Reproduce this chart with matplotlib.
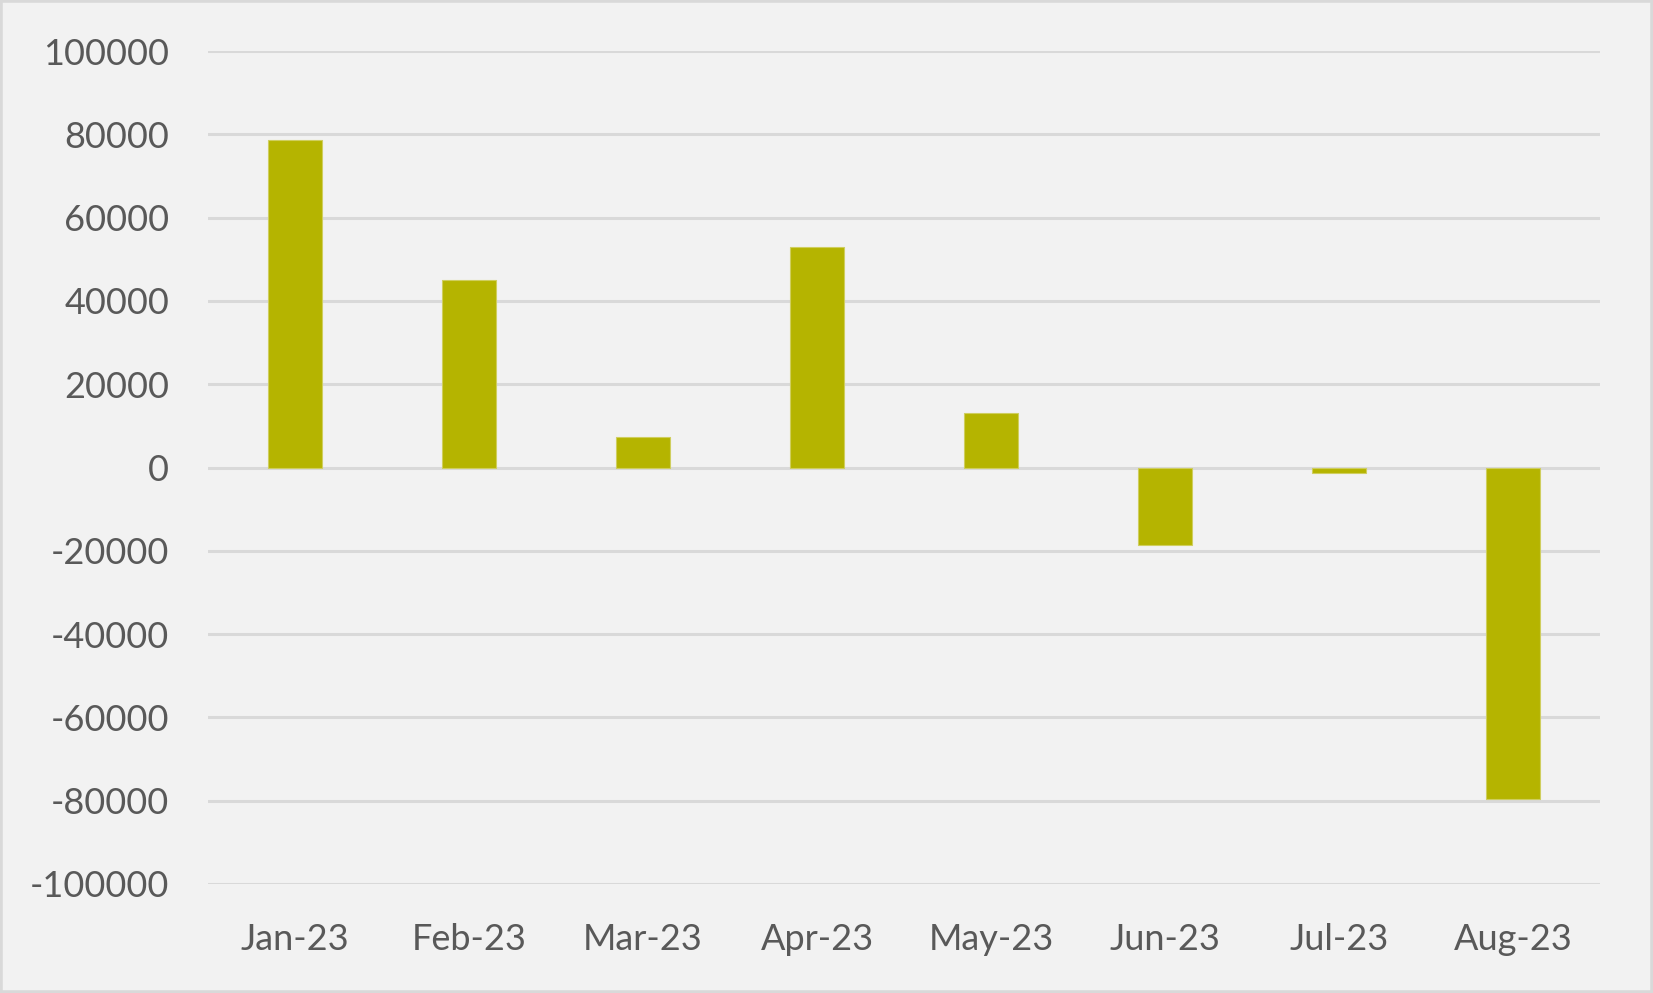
import matplotlib.pyplot as plt
from matplotlib.patches import Rectangle

months = ["Jan-23", "Feb-23", "Mar-23", "Apr-23", "May-23", "Jun-23", "Jul-23", "Aug-23"]
values = [78700, 45000, 7400, 52900, 13100, -18700, -1200, -79700]
yticks = [-100000, -80000, -60000, -40000, -20000, 0, 20000, 40000, 60000, 80000, 100000]

bg = "#F2F2F2"
text_color = "#595959"
grid_color = "#D9D9D9"
bar_color = "#B5B400"

plt.rcParams["font.family"] = ["Lato", "DejaVu Sans"]

fig = plt.figure(figsize=(16.53, 9.93), dpi=100, facecolor=bg)
ax = fig.add_axes([0.1258, 0.1098, 0.968 - 0.1258, 0.9486 - 0.1098])
ax.set_facecolor(bg)

x = range(len(months))
ax.bar(x, values, width=0.31, color=bar_color, edgecolor="#CFCE5E", linewidth=0.8, zorder=3)

ax.set_xlim(-0.5, len(months) - 0.5)
ax.set_ylim(-100000, 100000)
ax.set_yticks(yticks)
ax.set_yticklabels([str(v) for v in yticks])
ax.set_xticks(list(x))
ax.set_xticklabels(months)

ax.grid(axis="y", color=grid_color, linewidth=2.2, zorder=0)
ax.tick_params(axis="both", length=0, labelsize=26, colors=text_color)
ax.tick_params(axis="y", pad=28)
ax.tick_params(axis="x", pad=28)
for s in ax.spines.values():
    s.set_visible(False)

fig.patches.append(Rectangle((0, 0), 1, 1, transform=fig.transFigure, fill=False,
                             edgecolor=grid_color, linewidth=4, zorder=10))

fig.savefig("out.png", dpi=100, facecolor=bg)
